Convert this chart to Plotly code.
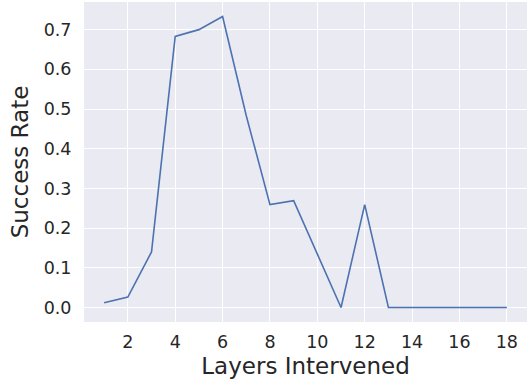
import plotly.graph_objects as go

# Success rate per intervened layer
layers = list(range(1, 19))
success_rate = [0.012, 0.026, 0.140, 0.683, 0.700, 0.733, 0.483, 0.259, 0.269,
                0.134, 0.0, 0.259, 0.0, 0.0, 0.0, 0.0, 0.0, 0.0]
x_ticks = [2, 4, 6, 8, 10, 12, 14, 16, 18]
y_ticks = [0.0, 0.1, 0.2, 0.3, 0.4, 0.5, 0.6, 0.7]

fig = go.Figure(
    go.Scatter(
        x=layers,
        y=success_rate,
        mode="lines",
        line=dict(color="#4c72b0", width=1.6),
        showlegend=False,
    )
)

font_family = "DejaVu Sans"
ymin, ymax = min(success_rate), max(success_rate)
ypad = (ymax - ymin) * 0.05
xpad = (max(layers) - min(layers)) * 0.05

fig.update_layout(
    width=529,
    height=383,
    margin=dict(l=84, r=2, t=2, b=61),
    paper_bgcolor="white",
    plot_bgcolor="#eaeaf2",
    font=dict(family=font_family, color="#262626", size=17.5),
    xaxis=dict(
        range=[min(layers) - xpad, max(layers) + xpad],
        tickvals=x_ticks,
        ticktext=[str(t) for t in x_ticks],
        showgrid=True,
        gridcolor="white",
        gridwidth=1.2,
        zeroline=False,
        showline=False,
        ticks="outside",
        ticklen=4,
        tickcolor="rgba(0,0,0,0)",
        title=dict(text="Layers Intervened", font=dict(size=23), standoff=6),
    ),
    yaxis=dict(
        range=[ymin - ypad, ymax + ypad],
        tickvals=y_ticks,
        ticktext=[f"{t:.1f}" for t in y_ticks],
        showgrid=True,
        gridcolor="white",
        gridwidth=1.2,
        zeroline=False,
        showline=False,
        ticks="outside",
        ticklen=8,
        tickcolor="rgba(0,0,0,0)",
        title=dict(text="Success Rate", font=dict(size=23), standoff=8),
    ),
)

fig.write_html("out.html")
